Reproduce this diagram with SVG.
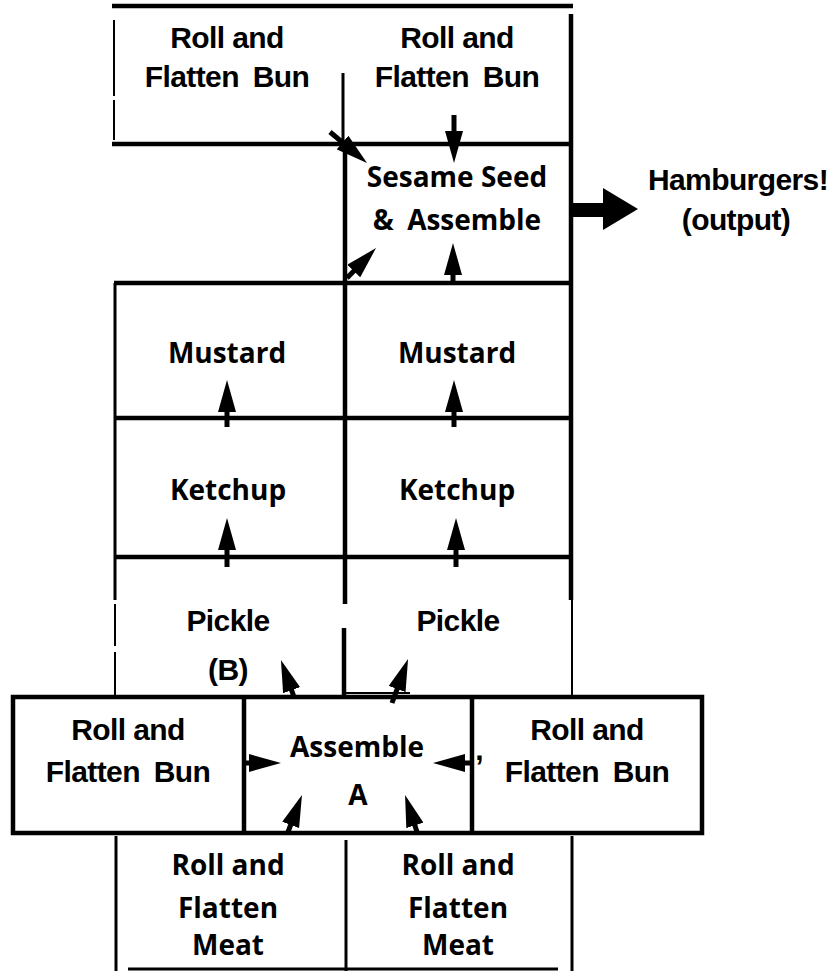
<svg xmlns="http://www.w3.org/2000/svg" width="836" height="971" viewBox="0 0 836 971">
<defs>
<style>
.ar{font-family:"Liberation Sans",Arial,sans-serif;font-weight:bold;font-size:30px;letter-spacing:-0.6px;text-anchor:middle;fill:#000}
.fb{word-spacing:6px}
.hu{font-family:"Open Sans","Noto Sans",sans-serif;font-weight:bold;font-size:28px;text-anchor:middle;fill:#000}
.ln{stroke:#000;stroke-width:4.5;fill:none}
.md{stroke:#000;stroke-width:3;fill:none}
.tn{stroke:#000;stroke-width:2;fill:none}
.arw{stroke:#000;stroke-width:5;fill:none;marker-end:url(#ah)}
</style>
<marker id="ah" viewBox="0 0 32 18" refX="12" refY="9" markerWidth="32" markerHeight="18" markerUnits="userSpaceOnUse" orient="auto">
<path d="M0,0 L32,9 L0,18 z" fill="#000"/>
</marker>
</defs>
<rect width="836" height="971" fill="#fff"/>

<g id="frame">
<line class="ln" x1="112" y1="6" x2="573" y2="6"/>
<line class="tn" x1="114" y1="20" x2="114" y2="96"/>
<line class="tn" x1="114" y1="100" x2="114" y2="140"/>
<line class="ln" x1="571" y1="14" x2="571" y2="600"/>
<line class="tn" x1="572" y1="600" x2="572" y2="697"/>
<line class="md" x1="343" y1="73" x2="343" y2="143"/>
<line class="ln" x1="345" y1="143" x2="345" y2="604"/>
<line class="ln" x1="344" y1="628" x2="344" y2="697"/>
<line class="ln" x1="112" y1="144" x2="571" y2="144"/>
<line class="ln" x1="114" y1="283" x2="571" y2="283"/>
<line class="md" x1="115" y1="283" x2="115" y2="600"/>
<line class="tn" x1="115" y1="604" x2="115" y2="646"/>
<line class="tn" x1="115" y1="652" x2="115" y2="697"/>
<line class="ln" x1="114" y1="418" x2="571" y2="418"/>
<line class="ln" x1="114" y1="557" x2="571" y2="557"/>
<line class="tn" x1="345" y1="693" x2="410" y2="693"/>
<rect class="ln" x="13" y="697" width="689" height="136" stroke-width="5"/>
<line class="ln" x1="244" y1="697" x2="244" y2="833" stroke-width="5"/>
<line class="ln" x1="472" y1="697" x2="472" y2="833" stroke-width="5"/>
<line class="md" x1="116" y1="836" x2="116" y2="971"/>
<line class="md" x1="346" y1="840" x2="346" y2="971"/>
<line class="md" x1="572" y1="836" x2="572" y2="971"/>
<line class="md" x1="128" y1="969" x2="558" y2="969"/>
</g>

<g id="bun-top-left"><text class="ar" x="227" y="48">Roll and</text><text class="ar fb" x="227" y="87">Flatten Bun</text></g>
<g id="bun-top-right"><text class="ar" x="457" y="48">Roll and</text><text class="ar fb" x="457" y="87">Flatten Bun</text></g>
<g id="sesame"><text class="hu" x="457" y="187" font-size="27">Sesame Seed</text><text class="hu fb" x="457" y="230" font-size="27">&amp; Assemble</text></g>
<g id="output"><text class="ar" x="738" y="190" font-size="27" letter-spacing="0">Hamburgers!</text><text class="ar" x="736" y="230" font-size="27" letter-spacing="0">(output)</text></g>
<g id="mustard-left"><text class="hu" x="227" y="363">Mustard</text></g>
<g id="mustard-right"><text class="hu" x="457" y="363">Mustard</text></g>
<g id="ketchup-left"><text class="hu" x="228" y="500">Ketchup</text></g>
<g id="ketchup-right"><text class="hu" x="457" y="500">Ketchup</text></g>
<g id="pickle-left"><text class="ar" x="228" y="631" font-size="28">Pickle</text><text class="ar" x="228" y="680" font-size="20" letter-spacing="0">(B)</text></g>
<g id="pickle-right"><text class="ar" x="458" y="631" font-size="28">Pickle</text></g>
<g id="bun-bottom-left"><text class="ar" x="128" y="740">Roll and</text><text class="ar fb" x="128" y="782">Flatten Bun</text></g>
<g id="assemble"><text class="hu" x="357" y="757">Assemble</text><text class="hu" x="358" y="805" font-size="21">A</text></g>
<g id="bun-bottom-right"><text class="ar" x="587" y="740">Roll and</text><text class="ar fb" x="587" y="782">Flatten Bun</text><text class="ar" x="479" y="760" font-size="16" letter-spacing="0">,</text></g>
<g id="meat-left"><text class="hu" x="228" y="875">Roll and</text><text class="hu" x="228" y="918">Flatten</text><text class="hu" x="228" y="955">Meat</text></g>
<g id="meat-right"><text class="hu" x="458" y="875">Roll and</text><text class="hu" x="458" y="918">Flatten</text><text class="hu" x="458" y="955">Meat</text></g>

<g id="connectors">
<path class="arw" d="M330,132 L351.7,150.2"/>
<path class="arw" d="M454,115 L454,143"/>
<path class="arw" d="M347,278 L362.1,262.4"/>
<path class="arw" d="M453,285 L453,263"/>
<path class="arw" d="M227,427 L227,400"/>
<path class="arw" d="M454,427 L454,400"/>
<path class="arw" d="M227,567 L227,538"/>
<path class="arw" d="M456,567 L456,538"/>
<path class="arw" d="M294,697 L287.6,678.9"/>
<path class="arw" d="M392,703 L401.2,677.8"/>
<path class="arw" d="M244,763 L261,763"/>
<path class="arw" d="M472,763 L453,763"/>
<path class="arw" d="M288,832 L294.9,813.7"/>
<path class="arw" d="M417,832 L411.2,814"/>
<polygon points="572,203 603,203 603,188 638,209 603,230 603,217 572,217" fill="#000"/>
</g>
</svg>
